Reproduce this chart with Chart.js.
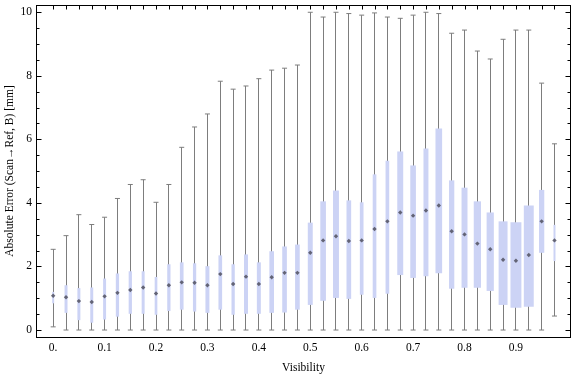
<!DOCTYPE html>
<html><head><meta charset="utf-8">
<script src="https://cdn.jsdelivr.net/npm/chart.js@4.4.1/dist/chart.umd.min.js"></script>
<style>html,body{margin:0;padding:0;background:#fff;}canvas{display:block;}</style>
</head><body>
<canvas id="c" width="576" height="377"></canvas>
<script>
// ---- data ----
const visibility = [0.000,0.025,0.050,0.075,0.100,0.125,0.150,0.175,0.200,0.225,
                    0.250,0.275,0.300,0.325,0.350,0.375,0.400,0.425,0.450,0.475,
                    0.500,0.525,0.550,0.575,0.600,0.625,0.650,0.675,0.700,0.725,
                    0.750,0.775,0.800,0.825,0.850,0.875,0.900,0.925,0.950,0.975];
const whiskerHigh = [2.54,2.97,3.63,3.32,3.55,4.14,4.58,4.73,4.02,4.58,
                     5.75,6.39,6.80,7.83,7.58,7.68,7.91,8.18,8.24,8.34,
                     10.0,9.85,10.0,9.96,9.91,9.98,9.85,9.81,9.91,10.0,
                     9.96,9.34,9.44,8.78,8.53,9.15,9.44,9.44,7.77,5.86];
const upperQuartile = [1.20,1.41,1.32,1.34,1.62,1.78,1.85,1.85,1.67,2.07,
                       2.13,2.10,2.01,2.35,2.07,2.38,2.13,2.48,2.63,2.69,
                       3.38,4.05,4.39,4.08,4.02,4.90,5.33,5.62,5.18,5.71,
                       6.34,4.71,4.48,4.05,3.70,3.42,3.39,3.92,4.41,3.31];
const median = [1.08,1.03,0.91,0.88,1.06,1.17,1.26,1.34,1.15,1.41,
                1.50,1.49,1.41,1.76,1.45,1.68,1.45,1.66,1.80,1.80,
                2.43,2.82,2.95,2.80,2.82,3.18,3.42,3.70,3.60,3.76,
                3.92,3.11,3.01,2.72,2.54,2.21,2.18,2.36,3.42,2.82];
const lowerQuartile = [0.84,0.54,0.31,0.23,0.33,0.42,0.51,0.51,0.48,0.60,
                       0.64,0.58,0.54,0.64,0.48,0.51,0.51,0.54,0.55,0.64,
                       0.79,0.92,1.01,0.98,1.11,1.01,1.14,1.73,1.64,1.69,
                       1.79,1.30,1.33,1.33,1.23,0.79,0.70,0.73,2.43,2.17];
const whiskerLow = [0.10,0,0,0,0,0,0,0,0,0,
                    0,0,0,0,0,0,0,0,0,0,
                    0,0,0,0,0,0,0,0,0,0,
                    0,0,0,0,0,0,0,0,0,0.44];
// relative box width (sample weight) per category
const boxWeight = [0.20,0.30,0.30,0.30,0.30,0.33,0.33,0.30,0.27,0.33,
                   0.37,0.33,0.40,0.37,0.33,0.40,0.40,0.47,0.47,0.47,
                   0.50,0.57,0.60,0.47,0.37,0.37,0.37,0.60,0.57,0.50,
                   0.67,0.53,0.60,0.73,0.73,0.90,1.10,1.00,0.53,0.20];
const xTickLabels = ['0.','0.1','0.2','0.3','0.4','0.5','0.6','0.7','0.8','0.9'];
const yTickLabels = ['0','2','4','6','8','10'];
const xAxisTitle = 'Visibility';
const yAxisTitle = 'Absolute Error (Scan\u2192Ref, B) [mm]';

// ---- styling ----
const FONT = {family: "'Liberation Serif', 'DejaVu Serif', serif", size: 11.5};
const BOX_COLOR = 'rgb(204,211,245)';
const WHISKER_COLOR = 'rgb(125,125,125)';
const MEDIAN_COLOR = 'rgba(80,80,95,0.85)';
const WEIGHT_UNIT = 0.0193; // x-axis units per unit of box weight

const whiskers = visibility.map((v, i) => ({x: v, y: [whiskerLow[i], whiskerHigh[i]]}));
const boxes = visibility.map((v, i) => ({x: v, y: [lowerQuartile[i], upperQuartile[i]]}));
const medians = visibility.map((v, i) => ({x: v, y: median[i]}));
const caps = [];
visibility.forEach((v, i) => { caps.push({x: v, y: whiskerHigh[i]}); caps.push({x: v, y: whiskerLow[i]}); });

const frameAndWidths = {
  id: 'frameAndWidths',
  afterDatasetsUpdate(chart) {
    const xs = chart.scales.x;
    // crisp 1px whiskers: snap centre to a pixel centre
    chart.getDatasetMeta(0).data.forEach(el => { el.x = Math.round(el.x - 0.5) + 0.5; });
    chart.getDatasetMeta(1).data.forEach((el, i) => {
      const half = boxWeight[i] * WEIGHT_UNIT / 2;
      el.width = Math.abs(xs.getPixelForValue(visibility[i] + half) - xs.getPixelForValue(visibility[i] - half));
    });
  },
  afterDraw(chart) {
    const {ctx, chartArea: a, scales: {x, y}} = chart;
    ctx.save();
    ctx.strokeStyle = '#000';
    ctx.lineWidth = 1;
    const L = Math.round(a.left) + 0.5, R = Math.round(a.right) - 0.5;
    const T = Math.round(a.top) + 0.5, B = Math.round(a.bottom) + 0.5;
    ctx.strokeRect(L, T, R - L, B - T);
    ctx.beginPath();
    x.ticks.forEach(t => {
      const px = Math.round(x.getPixelForValue(t.value)) + 0.5;
      ctx.moveTo(px, T); ctx.lineTo(px, T + 4);
    });
    y.ticks.forEach(t => {
      const py = Math.round(y.getPixelForValue(t.value)) + 0.5;
      const len = t.isMain ? 5 : 3;
      ctx.moveTo(L, py); ctx.lineTo(L + len, py);
      ctx.moveTo(R, py); ctx.lineTo(R - len, py);
    });
    ctx.stroke();
    ctx.restore();
  }
};

new Chart(document.getElementById('c'), {
  type: 'bar',
  data: {
    datasets: [
      {type: 'bar', data: whiskers, backgroundColor: WHISKER_COLOR, borderWidth: 0, inflateAmount: 0,
       barThickness: 1, grouped: false, order: 4},
      {type: 'bar', data: boxes, backgroundColor: BOX_COLOR, borderWidth: 0, inflateAmount: 0,
       barThickness: 4, grouped: false, order: 3},
      {type: 'scatter', data: caps, pointStyle: 'line', pointRadius: 2.5,
       borderColor: WHISKER_COLOR, borderWidth: 1, order: 2},
      {type: 'scatter', data: medians, pointStyle: 'rectRot', pointRadius: 2.2,
       backgroundColor: MEDIAN_COLOR, borderWidth: 0, order: 1}
    ]
  },
  options: {
    responsive: false,
    devicePixelRatio: 1,
    animation: false,
    events: [],
    layout: {padding: {top: 4, right: 1, left: 0, bottom: 0}},
    plugins: {legend: {display: false}, tooltip: {enabled: false}},
    scales: {
      x: {
        type: 'linear', min: -0.0334, max: 1.0071, offset: false,
        grid: {display: false, drawTicks: false, offset: false},
        border: {display: false},
        afterBuildTicks: s => { s.ticks = visibility.map(v => ({value: v})); },
        afterFit: s => { s.height = 40; s.paddingLeft = 0; s.paddingRight = 0; },
        ticks: {autoSkip: false, maxRotation: 0, minRotation: 0, padding: 3.6, color: '#000', font: FONT,
                callback: (v, i) => (i % 4 === 0 ? xTickLabels[i / 4] : '')},
        title: {display: true, text: xAxisTitle, color: '#000', font: FONT, padding: {top: 0, bottom: 1.8}}
      },
      y: {
        type: 'linear', min: -0.2196, max: 10.229,
        grid: {display: false, drawTicks: false},
        border: {display: false},
        afterBuildTicks: s => {
          const ticks = [];
          yTickLabels.forEach((lab, k) => {
            const v = Number(lab);
            ticks.push({value: v, isMain: true, label: lab});
            if (k < yTickLabels.length - 1) {
              const step = (Number(yTickLabels[k + 1]) - v) / 4;
              for (let j = 1; j < 4; j++) ticks.push({value: v + j * step, isMain: false});
            }
          });
          s.ticks = ticks;
        },
        afterFit: s => { s.width = 36; s.paddingTop = 0; s.paddingBottom = 0; },
        ticks: {autoSkip: false, padding: 4, color: '#000', font: FONT,
                callback: function (v, i, ticks) { return ticks[i].isMain ? ticks[i].label : ''; }},
        title: {display: true, text: yAxisTitle, color: '#000', font: FONT, padding: {top: 3, bottom: 0}}
      }
    }
  },
  plugins: [frameAndWidths]
});
</script>
</body></html>
